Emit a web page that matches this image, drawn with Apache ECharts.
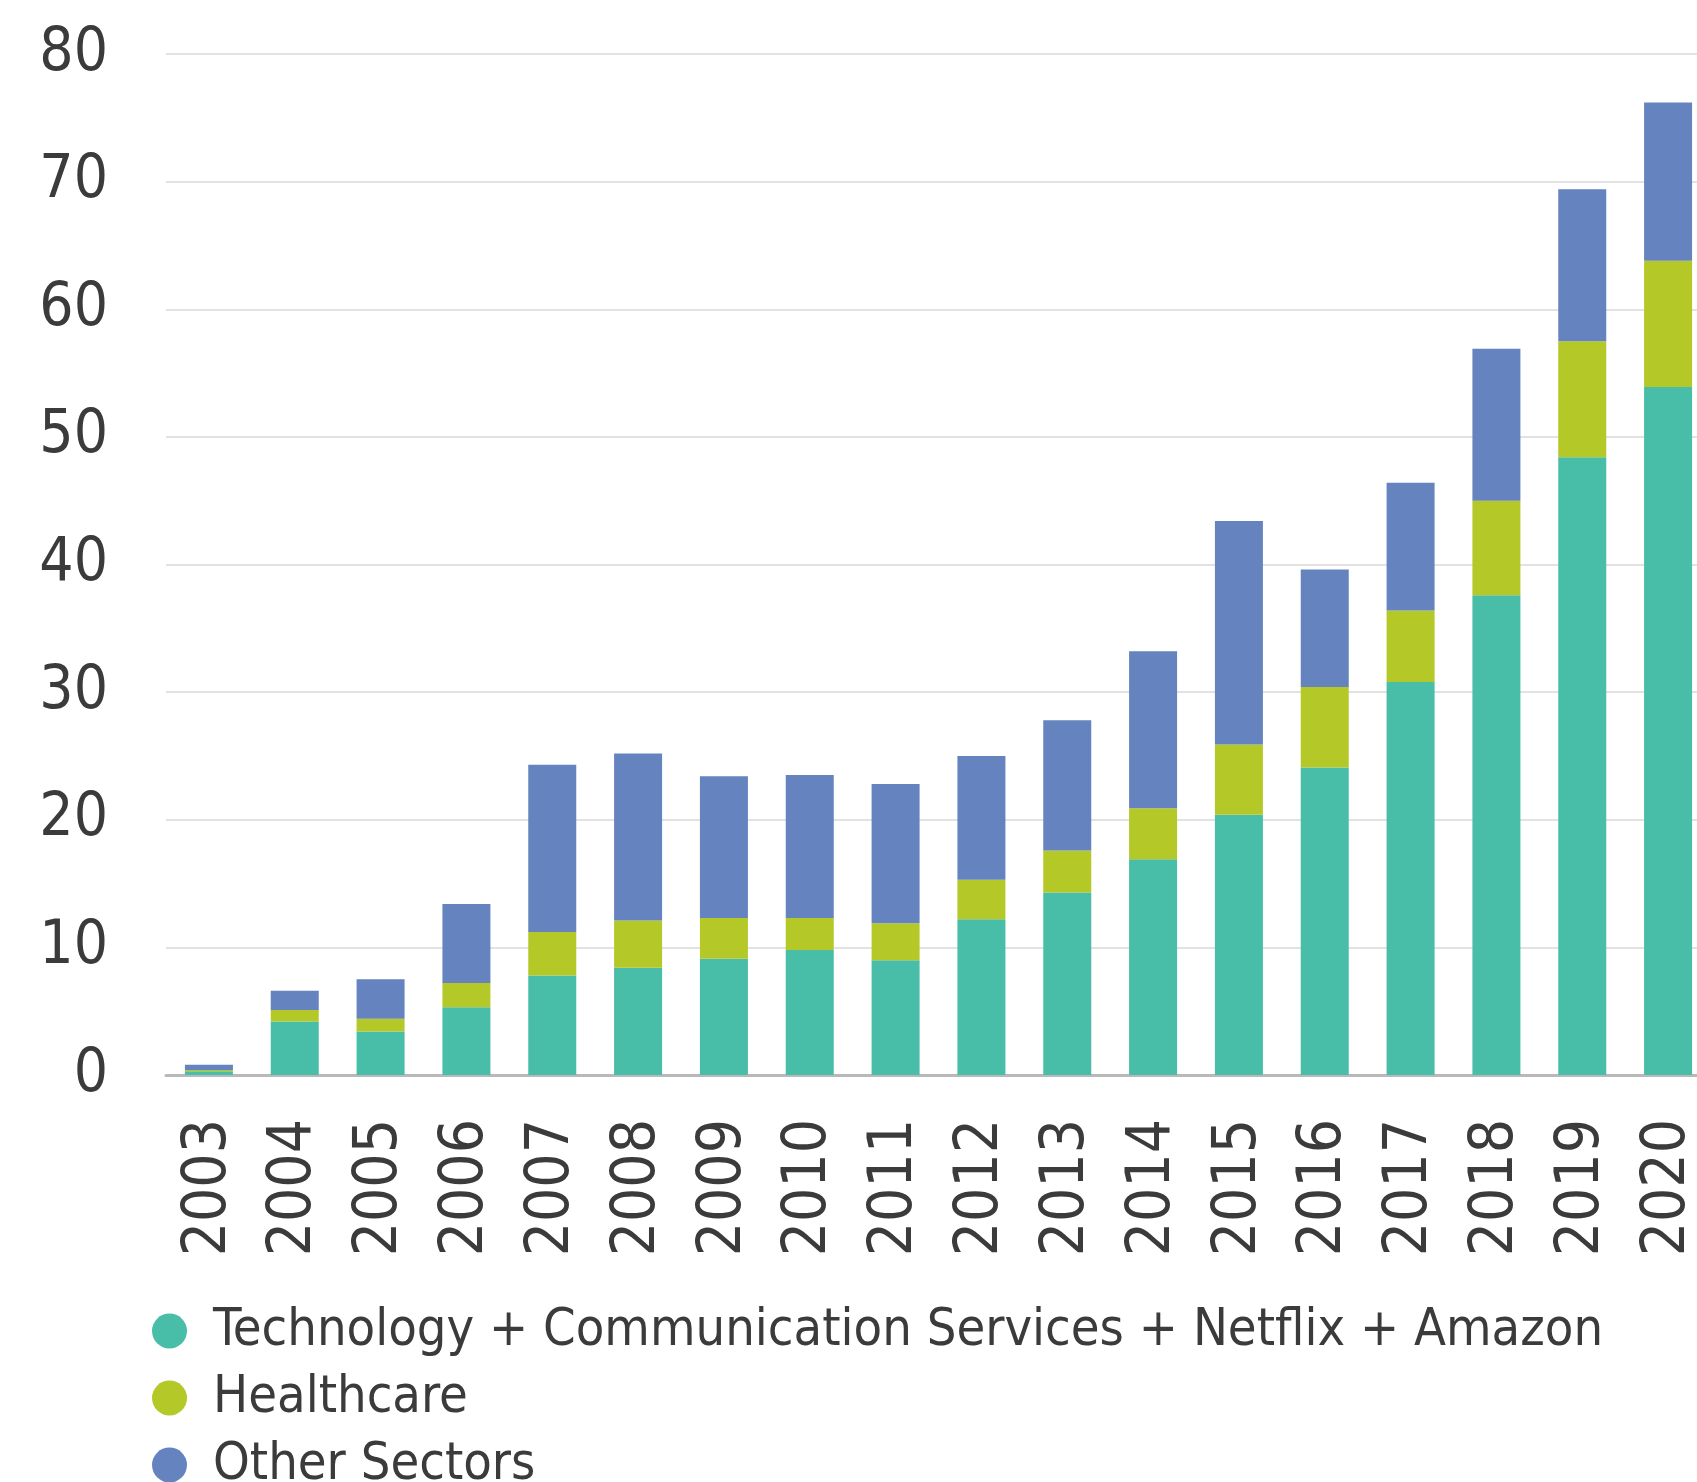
<!DOCTYPE html>
<html>
<head>
<meta charset="utf-8">
<script src="https://cdn.jsdelivr.net/npm/echarts@6/dist/echarts.min.js"></script>
<style>
  html, body { margin: 0; padding: 0; background: #ffffff; overflow: hidden; }
  #chart { width: 1720px; height: 1482px; }
</style>
</head>
<body>
<div id="chart"></div>
<script>
// Years on the category axis
const years = ['2003', '2004', '2005', '2006', '2007', '2008', '2009', '2010', '2011',
  '2012', '2013', '2014', '2015', '2016', '2017', '2018', '2019', '2020'];

// Stacked segment values per sector
const techComm = [0.3, 4.2, 3.4, 5.3, 7.8, 8.4, 9.1, 9.8, 9.0, 12.2, 14.3, 16.9, 20.4, 24.1, 30.8, 37.6, 48.4, 53.9];
const healthcare = [0.1, 0.9, 1.0, 1.9, 3.4, 3.7, 3.2, 2.5, 2.9, 3.1, 3.3, 4.0, 5.5, 6.3, 5.6, 7.4, 9.1, 9.9];
const otherSectors = [0.4, 1.5, 3.1, 6.2, 13.1, 13.1, 11.1, 11.2, 10.9, 9.7, 10.2, 12.3, 17.5, 9.2, 10.0, 11.9, 11.9, 12.4];

// Series names shown in the legend
const seriesNames = [
  'Technology + Communication Services + Netflix + Amazon',
  'Healthcare',
  'Other Sectors'
];

// Value axis ticks
const yMin = 0;
const yMax = 80;
const yStep = 10;

const FONT = '"DejaVu Sans Condensed", "DejaVu Sans", sans-serif';
const TEXT = '#3b3b3b';
const colors = ['#48bea8', '#b4c828', '#6583be'];

const chart = echarts.init(document.getElementById('chart'), null, { renderer: 'canvas' });

const seriesData = [techComm, healthcare, otherSectors];

chart.setOption({
  animation: false,
  backgroundColor: '#ffffff',
  color: colors,
  grid: {
    left: 166,
    top: 54,
    width: 1545,
    bottom: 407,
    containLabel: false
  },
  legend: {
    orient: 'vertical',
    left: 152,
    top: 1305,
    height: 400,
    padding: 0,
    icon: 'circle',
    itemWidth: 35,
    itemHeight: 35,
    itemGap: 15,
    textStyle: {
      fontFamily: FONT,
      fontSize: 52,
      lineHeight: 50,
      color: TEXT,
      padding: [0, 0, 0, 21]
    },
    data: seriesNames
  },
  xAxis: {
    type: 'category',
    data: years,
    axisLine: { show: true, lineStyle: { color: '#b9b9b9', width: 3 } },
    axisTick: { show: false },
    axisLabel: {
      rotate: 90,
      margin: 44,
      fontFamily: FONT,
      fontSize: 60,
      color: TEXT
    }
  },
  yAxis: {
    type: 'value',
    min: yMin,
    max: yMax,
    interval: yStep,
    axisLine: { show: false },
    axisTick: { show: false },
    splitLine: { lineStyle: { color: '#e2e2e2', width: 2 } },
    axisLabel: {
      margin: 58,
      fontFamily: FONT,
      fontSize: 60,
      color: TEXT
    }
  },
  series: seriesNames.map((name, i) => ({
    name: name,
    type: 'bar',
    stack: 'total',
    barWidth: 48,
    data: seriesData[i],
    itemStyle: { color: colors[i] }
  }))
});
</script>
</body>
</html>
